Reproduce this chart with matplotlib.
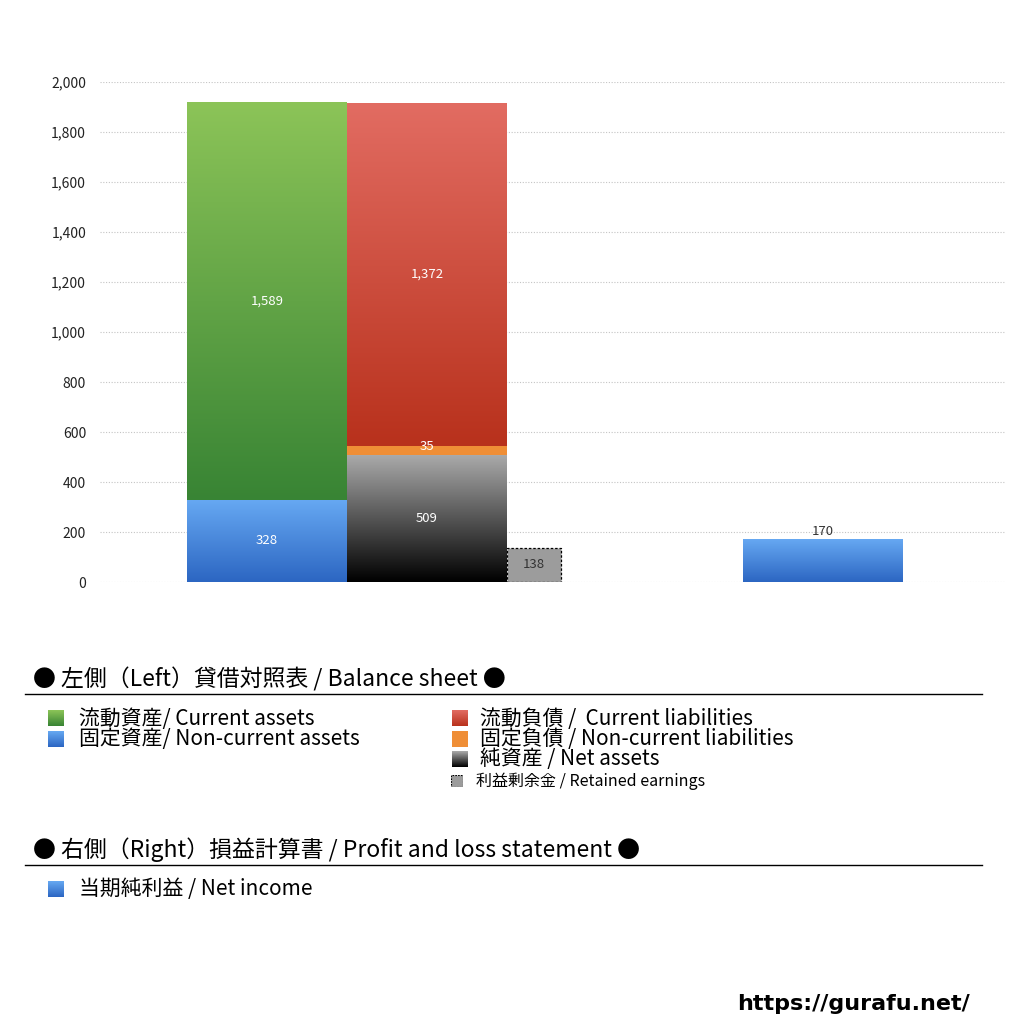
import matplotlib
matplotlib.use("Agg")
import matplotlib.pyplot as plt
import numpy as np
from matplotlib.colors import LinearSegmentedColormap
from matplotlib.patches import Rectangle
from matplotlib.ticker import FuncFormatter

plt.rcParams['font.family'] = ['Noto Sans CJK JP', 'DejaVu Sans']

# ---------- datos ----------
current_assets = 1589
noncurrent_assets = 328
current_liab = 1372
noncurrent_liab = 35
net_assets = 509
retained_earnings = 138
net_income = 170

yticks = list(range(0, 2001, 200))

# colores de degradado (arriba, abajo)
GREEN = ("#8cc458", "#388434")
BLUE = ("#66a8f2", "#2c66c2")
RED = ("#e26c62", "#b8311c")
GRAY = ("#ababab", "#000000")
ORANGE = "#ef8e36"
RE_GRAY = "#9c9c9c"

W, H = 1024, 1024
fig = plt.figure(figsize=(W / 100, H / 100), dpi=100)

# ejes en píxeles: x 100..1005, y 82..582
ax = fig.add_axes([100 / W, 1 - 582 / H, 905 / W, 500 / H])
PX = 160.0  # ancho de barra en px = 1 unidad
xmax = 905 / PX


def grad_bar(ax, x0, x1, y0, y1, top, bot, z=2):
    cmap = LinearSegmentedColormap.from_list("g", [bot, top])
    g = np.linspace(0, 1, 256).reshape(-1, 1)
    ax.imshow(g, extent=[x0, x1, y0, y1], origin="lower", aspect="auto",
              cmap=cmap, zorder=z, interpolation="bicubic")


def px2x(p):
    return (p - 100) / PX


# barra izquierda (activos)
lx0, lx1 = px2x(187), px2x(347)
grad_bar(ax, lx0, lx1, 0, noncurrent_assets, *BLUE)
grad_bar(ax, lx0, lx1, noncurrent_assets, noncurrent_assets + current_assets, *GREEN)

# barra derecha (pasivos + patrimonio)
rx0, rx1 = px2x(347), px2x(507)
grad_bar(ax, rx0, rx1, 0, net_assets, *GRAY)
ax.add_patch(Rectangle((rx0, net_assets), rx1 - rx0, noncurrent_liab,
                       facecolor=ORANGE, edgecolor="none", zorder=2))
grad_bar(ax, rx0, rx1, net_assets + noncurrent_liab,
         net_assets + noncurrent_liab + current_liab, *RED)

# utilidades retenidas
ex0, ex1 = px2x(507), px2x(561)
ax.add_patch(Rectangle((ex0, 0), ex1 - ex0, retained_earnings,
                       facecolor=RE_GRAY, edgecolor="black", lw=0.9,
                       ls=(0, (2, 1.5)), zorder=2))

# utilidad neta
nx0, nx1 = px2x(743), px2x(903)
grad_bar(ax, nx0, nx1, 0, net_income, *BLUE)

# etiquetas
lc = (lx0 + lx1) / 2
rc = (rx0 + rx1) / 2
fs = 9.5
kw = dict(ha="center", va="center", fontsize=fs, zorder=4)
ax.text(lc, noncurrent_assets / 2, f"{noncurrent_assets:,}", color="white", **kw)
ax.text(lc, noncurrent_assets + current_assets / 2, f"{current_assets:,}",
        color="white", **kw)
ax.text(rc, net_assets / 2, f"{net_assets:,}", color="white", **kw)
ax.text(rc, net_assets + noncurrent_liab / 2 + 16, f"{noncurrent_liab:,}",
        color="white", **kw)
ax.text(rc, net_assets + noncurrent_liab + current_liab / 2, f"{current_liab:,}",
        color="white", **kw)
ax.text((ex0 + ex1) / 2, retained_earnings / 2, f"{retained_earnings:,}",
        color="#333333", **kw)
ax.text((nx0 + nx1) / 2, net_income + 6, f"{net_income:,}", color="#333333",
        ha="center", va="bottom", fontsize=fs, zorder=4)

ax.set_xlim(0, xmax)
ax.set_ylim(0, 2000)
ax.set_yticks(yticks)
ax.yaxis.set_major_formatter(FuncFormatter(lambda v, p: f"{int(v):,}"))
ax.tick_params(axis="y", length=0, labelsize=10, pad=10, colors="#222222")
ax.set_xticks([])
for s in ax.spines.values():
    s.set_visible(False)
ax.grid(axis="y", color="#c4c4c4", ls=(0, (1, 1.5)), lw=0.8, zorder=0)
ax.set_axisbelow(True)

# ---------- leyendas ----------
def fy(p):
    return 1 - p / H


def fx(p):
    return p / W


def legend_box(x, y, size, top, bot=None, dashed=False):
    a = fig.add_axes([fx(x), fy(y + size), size / W, size / H])
    a.set_axis_off()
    if bot is None:
        a.add_patch(Rectangle((0, 0), 1, 1, facecolor=top,
                              edgecolor="black" if dashed else "none",
                              lw=0.8, ls=(0, (1.5, 1)) if dashed else "-"))
    else:
        cmap = LinearSegmentedColormap.from_list("g", [bot, top])
        a.imshow(np.linspace(0, 1, 64).reshape(-1, 1), extent=[0, 1, 0, 1],
                 origin="lower", aspect="auto", cmap=cmap)
    a.set_xlim(0, 1)
    a.set_ylim(0, 1)


tfs = 16.5
lfs = 15
fig.text(fx(33), fy(679), "● 左側（Left）貸借対照表 / Balance sheet ●",
         fontsize=tfs, va="center", ha="left")
fig.add_artist(plt.Line2D([fx(25), fx(982)], [fy(694), fy(694)],
                          color="black", lw=1))

legend_box(48, 710, 16, *GREEN)
fig.text(fx(79), fy(719), "流動資産/ Current assets", fontsize=lfs, va="center")
legend_box(48, 731, 16, *BLUE)
fig.text(fx(79), fy(739), "固定資産/ Non-current assets", fontsize=lfs, va="center")

legend_box(452, 710, 16, *RED)
fig.text(fx(480), fy(719), "流動負債 /  Current liabilities", fontsize=lfs, va="center")
legend_box(452, 731, 16, ORANGE)
fig.text(fx(480), fy(739), "固定負債 / Non-current liabilities", fontsize=lfs, va="center")
legend_box(452, 751, 16, *GRAY)
fig.text(fx(480), fy(759), "純資産 / Net assets", fontsize=lfs, va="center")
legend_box(451, 775, 12, RE_GRAY, dashed=True)
fig.text(fx(476), fy(781), "利益剰余金 / Retained earnings", fontsize=11.5, va="center")

fig.text(fx(33), fy(850), "● 右側（Right）損益計算書 / Profit and loss statement ●",
         fontsize=tfs, va="center", ha="left")
fig.add_artist(plt.Line2D([fx(25), fx(982)], [fy(865), fy(865)],
                          color="black", lw=1))
legend_box(48, 881, 16, *BLUE)
fig.text(fx(79), fy(889), "当期純利益 / Net income", fontsize=lfs, va="center")

fig.text(fx(970), fy(1004), "https://gurafu.net/", fontsize=16, fontweight="bold",
         ha="right", va="center", family="DejaVu Sans")

fig.savefig("out.png", dpi=100)
